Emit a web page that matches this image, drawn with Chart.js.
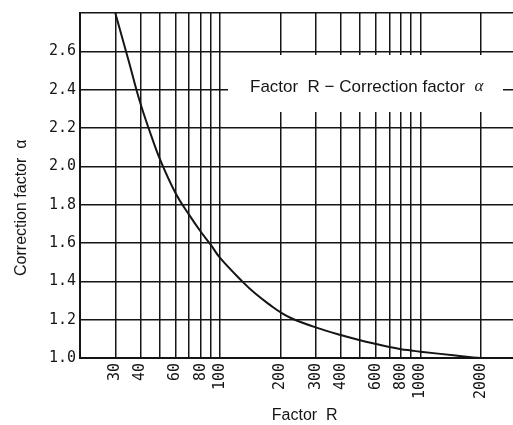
<!DOCTYPE html>
<html lang="en">
<head>
<meta charset="UTF-8">
<title>Factor R - Correction factor α</title>
<script src="https://cdn.jsdelivr.net/npm/chart.js@4.4.1/dist/chart.umd.min.js"></script>
<style>
  html, body { margin: 0; padding: 0; background: #fff; }
  #wrap { width: 513px; height: 425px; overflow: hidden; }
</style>
</head>
<body>
<div id="wrap"><canvas id="chart" width="520" height="425"></canvas></div>
<script>
// curve
const factorR = [30, 35, 40, 45, 50, 60, 70, 80, 90, 100, 129, 150, 180, 200, 230, 300, 400, 500, 600, 700, 800, 900, 1000, 1500, 2000, 3000];
const alpha   = [2.80, 2.55, 2.33, 2.17, 2.04, 1.86, 1.748, 1.66, 1.59, 1.522, 1.40, 1.336, 1.272, 1.239, 1.205, 1.16, 1.12, 1.093, 1.073, 1.057, 1.046, 1.039, 1.033, 1.013, 1.0, 1.0];

// axes
const gridR   = [30, 40, 50, 60, 70, 80, 90, 100, 200, 300, 400, 500, 600, 700, 800, 900, 1000, 2000];
const labelR  = [30, 40, 60, 80, 100, 200, 300, 400, 600, 800, 1000, 2000];
const rMin = 20, rMax = 3000;
const alphaMin = 1.0, alphaMax = 2.8, alphaStep = 0.2;

const xTitle = '\u00a0\u00a0\u00a0Factor  R';
const yTitle = 'Correction factor  α' + '\u00a0'.repeat(10);
const noteText = 'Factor  R \u2212 Correction factor  ';
const noteSymbol = 'α';

const ink = '#151515';
const tickFont = { family: '"DejaVu Sans Mono", monospace', size: 15 };
const textFont = { family: '"Liberation Sans", Arial, sans-serif', size: 16 };

// white box with the caption, sits over the grid
const notePlugin = {
  id: 'note',
  beforeDatasetsDraw(chart) {
    const ctx = chart.ctx;
    ctx.save();
    ctx.fillStyle = '#fff';
    ctx.fillRect(228, 55, 275, 57);
    ctx.fillStyle = ink;
    ctx.textBaseline = 'middle';
    ctx.font = '17px "Liberation Sans", Arial, sans-serif';
    ctx.fillText(noteText, 250, 87);
    const w = ctx.measureText(noteText).width;
    ctx.font = 'italic 17px "Liberation Serif", serif';
    ctx.fillText(noteSymbol, 250 + w, 87);
    ctx.restore();
  }
};

new Chart(document.getElementById('chart'), {
  type: 'line',
  data: {
    datasets: [{
      data: factorR.map((r, i) => ({ x: r, y: alpha[i] })),
      borderColor: ink,
      borderWidth: 2,
      pointRadius: 0,
      tension: 0.4,
      fill: false
    }]
  },
  options: {
    responsive: false,
    animation: false,
    layout: { padding: { top: 10, right: 4, left: 0, bottom: 0 } },
    plugins: {
      legend: { display: false },
      tooltip: { enabled: false }
    },
    scales: {
      x: {
        type: 'logarithmic',
        min: rMin,
        max: rMax,
        afterBuildTicks: s => { s.ticks = gridR.map(v => ({ value: v })); },
        afterFit: s => { s.height = 67; },
        grid: { color: ink, lineWidth: 1.5, drawTicks: false },
        border: { color: ink, width: 2 },
        ticks: {
          autoSkip: false,
          minRotation: 90,
          maxRotation: 90,
          padding: 5,
          color: ink,
          font: tickFont,
          callback: v => labelR.includes(v) ? String(v) : ''
        },
        title: {
          display: true,
          text: xTitle,
          color: ink,
          font: textFont,
          padding: { top: 1, bottom: 0 }
        }
      },
      y: {
        min: alphaMin,
        max: alphaMax,
        afterFit: s => { s.width = 80; },
        grid: { color: ink, lineWidth: 1.5, drawTicks: false },
        border: { color: ink, width: 2 },
        ticks: {
          stepSize: alphaStep,
          padding: 4,
          color: ink,
          font: tickFont,
          callback: v => Math.abs(v - alphaMax) < 1e-6 ? '' : v.toFixed(1)
        },
        title: {
          display: true,
          text: yTitle,
          color: ink,
          font: textFont,
          padding: { top: 12, bottom: 0 }
        }
      }
    }
  },
  plugins: [notePlugin]
});
</script>
</body>
</html>
